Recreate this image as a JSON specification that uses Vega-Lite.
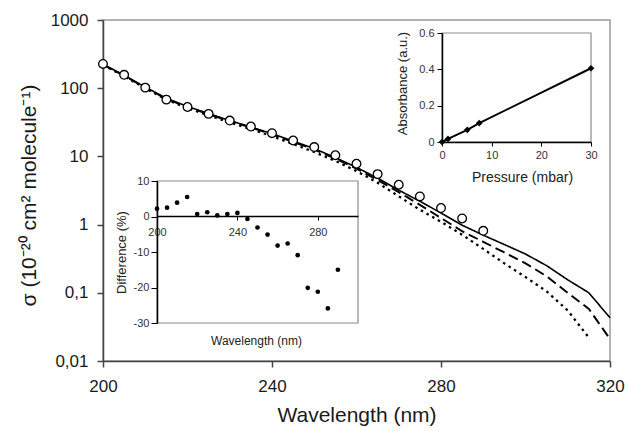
{
  "$schema": "https://vega.github.io/schema/vega-lite/v6.json",
  "width": 507,
  "height": 341,
  "autosize": {"type": "none"},
  "padding": {"left": 103, "top": 20, "right": 19, "bottom": 70},
  "background": "white",
  "config": {
    "font": "Liberation Sans",
    "view": {"stroke": "#9a9a9a", "strokeWidth": 1.5},
    "axis": {"grid": false, "titleFontWeight": "normal", "labelFont": "Liberation Sans", "titleFont": "Liberation Sans", "labelFlush": false}
  },
  "datasets": {
    "curves": [
      {"wl": 200, "sigma": 225, "model": "m1"}, {"wl": 205, "sigma": 155, "model": "m1"}, {"wl": 210, "sigma": 104, "model": "m1"},
      {"wl": 215, "sigma": 71, "model": "m1"}, {"wl": 220, "sigma": 54, "model": "m1"}, {"wl": 225, "sigma": 42.5, "model": "m1"},
      {"wl": 230, "sigma": 33.5, "model": "m1"}, {"wl": 235, "sigma": 27, "model": "m1"}, {"wl": 240, "sigma": 21.5, "model": "m1"},
      {"wl": 245, "sigma": 16.8, "model": "m1"}, {"wl": 250, "sigma": 13, "model": "m1"}, {"wl": 255, "sigma": 9.6, "model": "m1"},
      {"wl": 260, "sigma": 6.9, "model": "m1"}, {"wl": 265, "sigma": 4.8, "model": "m1"}, {"wl": 270, "sigma": 3.2, "model": "m1"},
      {"wl": 275, "sigma": 2.2, "model": "m1"}, {"wl": 280, "sigma": 1.48, "model": "m1"}, {"wl": 285, "sigma": 0.98, "model": "m1"},
      {"wl": 290, "sigma": 0.7, "model": "m1"}, {"wl": 295, "sigma": 0.51, "model": "m1"}, {"wl": 300, "sigma": 0.37, "model": "m1"},
      {"wl": 305, "sigma": 0.25, "model": "m1"}, {"wl": 310, "sigma": 0.155, "model": "m1"}, {"wl": 315, "sigma": 0.1, "model": "m1"},
      {"wl": 320, "sigma": 0.043, "model": "m1"},
      {"wl": 200, "sigma": 222, "model": "m2"}, {"wl": 205, "sigma": 152, "model": "m2"}, {"wl": 210, "sigma": 102, "model": "m2"},
      {"wl": 215, "sigma": 70, "model": "m2"}, {"wl": 220, "sigma": 53, "model": "m2"}, {"wl": 225, "sigma": 41.5, "model": "m2"},
      {"wl": 230, "sigma": 33, "model": "m2"}, {"wl": 235, "sigma": 26.5, "model": "m2"}, {"wl": 240, "sigma": 21, "model": "m2"},
      {"wl": 245, "sigma": 16.3, "model": "m2"}, {"wl": 250, "sigma": 12.6, "model": "m2"}, {"wl": 255, "sigma": 9.3, "model": "m2"},
      {"wl": 260, "sigma": 6.6, "model": "m2"}, {"wl": 265, "sigma": 4.5, "model": "m2"}, {"wl": 270, "sigma": 3.0, "model": "m2"},
      {"wl": 275, "sigma": 1.95, "model": "m2"}, {"wl": 280, "sigma": 1.25, "model": "m2"}, {"wl": 285, "sigma": 0.8, "model": "m2"},
      {"wl": 290, "sigma": 0.56, "model": "m2"}, {"wl": 295, "sigma": 0.39, "model": "m2"}, {"wl": 300, "sigma": 0.27, "model": "m2"},
      {"wl": 305, "sigma": 0.175, "model": "m2"}, {"wl": 310, "sigma": 0.1, "model": "m2"}, {"wl": 315, "sigma": 0.058, "model": "m2"},
      {"wl": 320, "sigma": 0.021, "model": "m2"},
      {"wl": 200, "sigma": 220, "model": "m3"}, {"wl": 205, "sigma": 150, "model": "m3"}, {"wl": 210, "sigma": 100, "model": "m3"},
      {"wl": 215, "sigma": 68, "model": "m3"}, {"wl": 220, "sigma": 51, "model": "m3"}, {"wl": 225, "sigma": 40, "model": "m3"},
      {"wl": 230, "sigma": 31.5, "model": "m3"}, {"wl": 235, "sigma": 25, "model": "m3"}, {"wl": 240, "sigma": 19.8, "model": "m3"},
      {"wl": 245, "sigma": 15.2, "model": "m3"}, {"wl": 250, "sigma": 11.6, "model": "m3"}, {"wl": 255, "sigma": 8.6, "model": "m3"},
      {"wl": 260, "sigma": 6.1, "model": "m3"}, {"wl": 265, "sigma": 4.1, "model": "m3"}, {"wl": 270, "sigma": 2.6, "model": "m3"},
      {"wl": 275, "sigma": 1.65, "model": "m3"}, {"wl": 280, "sigma": 1.1, "model": "m3"}, {"wl": 285, "sigma": 0.71, "model": "m3"},
      {"wl": 290, "sigma": 0.44, "model": "m3"}, {"wl": 295, "sigma": 0.27, "model": "m3"}, {"wl": 300, "sigma": 0.17, "model": "m3"},
      {"wl": 305, "sigma": 0.105, "model": "m3"}, {"wl": 310, "sigma": 0.055, "model": "m3"}, {"wl": 315, "sigma": 0.022, "model": "m3"}
    ],
    "measured": [
      {"wl": 200, "sigma": 227}, {"wl": 205, "sigma": 157}, {"wl": 210, "sigma": 102}, {"wl": 215, "sigma": 68},
      {"wl": 220, "sigma": 53}, {"wl": 225, "sigma": 42}, {"wl": 230, "sigma": 33.5}, {"wl": 235, "sigma": 27.4},
      {"wl": 240, "sigma": 21.9}, {"wl": 245, "sigma": 17.1}, {"wl": 250, "sigma": 13.7}, {"wl": 255, "sigma": 10.4},
      {"wl": 260, "sigma": 7.8}, {"wl": 265, "sigma": 5.5}, {"wl": 270, "sigma": 3.84}, {"wl": 275, "sigma": 2.59},
      {"wl": 280, "sigma": 1.75}, {"wl": 285, "sigma": 1.23}, {"wl": 290, "sigma": 0.81}
    ],
    "absorbance": [
      {"p": 0, "a": 0}, {"p": 1.2, "a": 0.017}, {"p": 5.1, "a": 0.067}, {"p": 7.5, "a": 0.104}, {"p": 30, "a": 0.406}
    ],
    "difference": [
      {"wl": 200, "d": 2.2}, {"wl": 205, "d": 2.5}, {"wl": 210, "d": 3.9}, {"wl": 215, "d": 5.5},
      {"wl": 220, "d": 0.7}, {"wl": 225, "d": 1.2}, {"wl": 230, "d": 0.3}, {"wl": 235, "d": 0.7},
      {"wl": 240, "d": 1.0}, {"wl": 245, "d": -0.7}, {"wl": 250, "d": -3.1}, {"wl": 255, "d": -5.1},
      {"wl": 260, "d": -8.2}, {"wl": 265, "d": -7.6}, {"wl": 270, "d": -10.9}, {"wl": 275, "d": -20.1},
      {"wl": 280, "d": -21.2}, {"wl": 285, "d": -25.9}, {"wl": 290, "d": -15.0}
    ]
  },
  "layer": [
    {
      "data": {"name": "curves"},
      "mark": {"type": "line", "color": "black"},
      "encoding": {
        "x": {"field": "wl", "type": "quantitative",
          "scale": {"domain": [200, 320], "nice": false, "zero": false},
          "axis": {"orient": "bottom", "values": [200, 240, 280, 320], "format": "d", "labelFontSize": 17, "labelColor": "#1a1a1a",
            "tickSize": 6, "labelPadding": 11, "domainColor": "#444", "domainWidth": 1.5, "tickColor": "#444", "tickWidth": 1.5,
            "title": "Wavelength (nm)", "titleFontSize": 21, "titleColor": "#1a1a1a", "titleX": 253.5, "titleY": 54, "titleBaseline": "middle"}},
        "y": {"field": "sigma", "type": "quantitative",
          "scale": {"type": "log", "domain": [0.01, 1000], "nice": false},
          "axis": {"orient": "left", "values": [0.01, 0.1, 1, 10, 100, 1000], "labelExpr": "replace(format(datum.value, '~g'), '.', ',')",
            "labelFontSize": 17, "labelColor": "#1a1a1a", "tickSize": 6, "labelPadding": 9, "domainColor": "#444", "domainWidth": 1.5,
            "tickColor": "#444", "tickWidth": 1.5,
            "title": "σ (10⁻²⁰ cm² molecule⁻¹)", "titleFontSize": 21, "titleColor": "#1a1a1a", "titleX": -74, "titleY": 175,
            "titleAngle": -90, "titleBaseline": "middle", "titleAlign": "center"}},
        "strokeDash": {"field": "model", "type": "nominal",
          "scale": {"domain": ["m1", "m2", "m3"], "range": [[1, 0], [10, 5], [2.5, 4]]}, "legend": null},
        "strokeWidth": {"field": "model", "type": "nominal",
          "scale": {"domain": ["m1", "m2", "m3"], "range": [1.6, 2.3, 2.6]}, "legend": null}
      }
    },
    {
      "data": {"name": "measured"},
      "mark": {"type": "point", "shape": "circle", "filled": true, "fill": "white", "stroke": "black", "strokeWidth": 1.3, "size": 75, "opacity": 1},
      "encoding": {
        "x": {"field": "wl", "type": "quantitative", "scale": {"domain": [200, 320], "nice": false, "zero": false}, "axis": null},
        "y": {"field": "sigma", "type": "quantitative", "scale": {"type": "log", "domain": [0.01, 1000], "nice": false}, "axis": null}
      }
    },
    {
      "data": {"values": [{}]},
      "mark": {"type": "rect", "fill": "white", "stroke": "#8c8c8c", "strokeWidth": 1.2},
      "encoding": {
        "x": {"datum": 0, "type": "quantitative",
          "scale": {"domain": [0, 30], "range": [339, 488], "nice": false, "zero": false},
          "axis": {"orient": "bottom", "offset": -219, "values": [0, 10, 20, 30], "format": "d", "labelFontSize": 11, "labelColor": "#333",
            "tickSize": 4, "tickColor": "black", "domainColor": "black", "domainWidth": 1.5, "labelPadding": 3, "zindex": 2,
            "title": "Pressure (mbar)", "titleFontSize": 14, "titleColor": "#222", "titleX": 419, "titleY": 35, "titleBaseline": "middle"}},
        "x2": {"datum": 30},
        "y": {"datum": 0, "type": "quantitative",
          "scale": {"domain": [0, 0.6], "range": [122, 13], "nice": false, "zero": false},
          "axis": {"orient": "left", "offset": -339, "values": [0, 0.2, 0.4, 0.6], "format": "~g", "labelFontSize": 11, "labelColor": "#333",
            "tickSize": 5, "tickColor": "black", "domainColor": "black", "domainWidth": 1.5, "labelPadding": 3, "zindex": 2,
            "title": "Absorbance (a.u.)", "titleFontSize": 13, "titleColor": "#222", "titleX": -40, "titleY": 63,
            "titleAngle": -90, "titleBaseline": "middle", "titleAlign": "center"}},
        "y2": {"datum": 0.6}
      }
    },
    {
      "data": {"name": "absorbance"},
      "mark": {"type": "line", "color": "black", "strokeWidth": 2},
      "encoding": {
        "x": {"field": "p", "type": "quantitative", "scale": {"domain": [0, 30], "range": [339, 488], "nice": false, "zero": false}, "axis": null},
        "y": {"field": "a", "type": "quantitative", "scale": {"domain": [0, 0.6], "range": [122, 13], "nice": false, "zero": false}, "axis": null}
      }
    },
    {
      "data": {"name": "absorbance"},
      "mark": {"type": "point", "shape": "diamond", "filled": true, "color": "black", "size": 45, "opacity": 1},
      "encoding": {
        "x": {"field": "p", "type": "quantitative", "scale": {"domain": [0, 30], "range": [339, 488], "nice": false, "zero": false}, "axis": null},
        "y": {"field": "a", "type": "quantitative", "scale": {"domain": [0, 0.6], "range": [122, 13], "nice": false, "zero": false}, "axis": null}
      }
    },
    {
      "data": {"values": [{}]},
      "mark": {"type": "rect", "fill": "white", "stroke": "#8c8c8c", "strokeWidth": 1.2},
      "encoding": {
        "x": {"datum": 200, "type": "quantitative",
          "scale": {"domain": [200, 300], "range": [54, 255], "nice": false, "zero": false},
          "axis": {"orient": "bottom", "offset": -145, "values": [200, 240, 280], "format": "d", "labelFontSize": 11, "labelColor": "#333",
            "tickSize": 4, "tickColor": "black", "domainColor": "black", "domainWidth": 1.5, "labelPadding": 6, "zindex": 2,
            "title": "Wavelength (nm)", "titleFontSize": 12, "titleColor": "#222", "titleX": 153, "titleY": 124, "titleBaseline": "middle"}},
        "x2": {"datum": 300},
        "y": {"datum": -30, "type": "quantitative",
          "scale": {"domain": [-30, 10], "range": [303, 161], "nice": false, "zero": false},
          "axis": {"orient": "left", "offset": -54, "values": [-30, -20, -10, 0, 10], "labelExpr": "datum.value + ''", "labelFontSize": 11, "labelColor": "#333",
            "tickSize": 6, "tickColor": "black", "domainColor": "black", "domainWidth": 1.5, "labelPadding": 2, "zindex": 2,
            "title": "Difference (%)", "titleFontSize": 13, "titleColor": "#222", "titleX": -36, "titleY": 232,
            "titleAngle": -90, "titleBaseline": "middle", "titleAlign": "center"}},
        "y2": {"datum": 10}
      }
    },
    {
      "data": {"name": "difference"},
      "mark": {"type": "point", "shape": "circle", "filled": true, "color": "black", "size": 22, "opacity": 1},
      "encoding": {
        "x": {"field": "wl", "type": "quantitative", "scale": {"domain": [200, 300], "range": [54, 255], "nice": false, "zero": false}, "axis": null},
        "y": {"field": "d", "type": "quantitative", "scale": {"domain": [-30, 10], "range": [303, 161], "nice": false, "zero": false}, "axis": null}
      }
    }
  ],
  "resolve": {"scale": {"x": "independent", "y": "independent"}, "axis": {"x": "independent", "y": "independent"}}
}
